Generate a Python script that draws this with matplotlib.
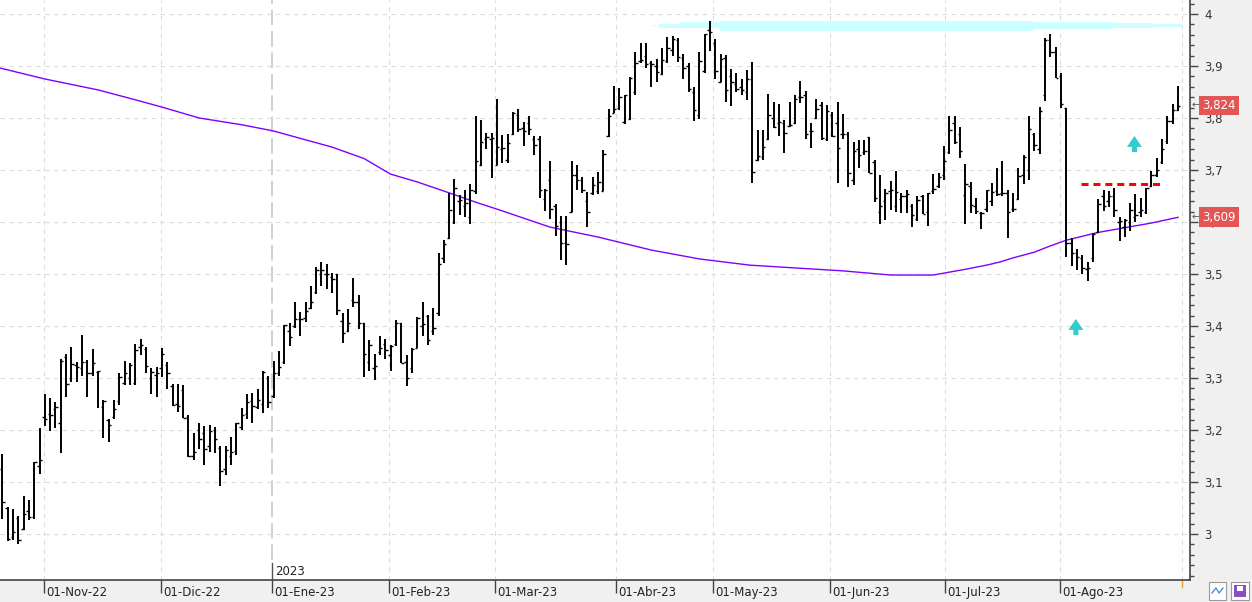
import matplotlib.pyplot as plt
import numpy as np
from matplotlib.patches import Rectangle
from matplotlib.ticker import FuncFormatter, MultipleLocator

plt.rcParams['font.family'] = ['DejaVu Sans']

# daily OHLC bars, one per trading day (index 0 = late Oct 2022)
opens = [
    3.125, 3.050, 2.995, 3.030, 3.010, 3.045, 3.033, 3.130, 3.225, 3.230,
    3.240, 3.213, 3.340, 3.300, 3.325, 3.320, 3.330, 3.310, 3.312, 3.245,
    3.220, 3.225, 3.255, 3.290, 3.300, 3.290, 3.360, 3.355, 3.300, 3.305,
    3.320, 3.325, 3.285, 3.250, 3.276, 3.225, 3.150, 3.200, 3.195, 3.170,
    3.200, 3.165, 3.125, 3.150, 3.160, 3.205, 3.230, 3.255, 3.245, 3.250,
    3.300, 3.265, 3.310, 3.330, 3.390, 3.400, 3.413, 3.415, 3.435, 3.465,
    3.500, 3.500, 3.495, 3.500, 3.410, 3.390, 3.450, 3.446, 3.405, 3.330,
    3.320, 3.350, 3.365, 3.345, 3.365, 3.405, 3.330,
    3.320, 3.357, 3.400, 3.420,
    3.390, 3.425, 3.530, 3.570, 3.600, 3.640, 3.630, 3.610, 3.660, 3.710,
    3.760, 3.760, 3.710, 3.740, 3.720, 3.770, 3.805, 3.780, 3.790, 3.760,
    3.760, 3.645, 3.680, 3.630, 3.600, 3.560, 3.620, 3.690, 3.680, 3.640,
    3.655, 3.660, 3.660, 3.765, 3.810, 3.820, 3.792, 3.798, 3.850, 3.910,
    3.920, 3.905, 3.900, 3.885, 3.910, 3.930, 3.950, 3.915, 3.900, 3.850,
    3.806, 3.890, 3.970, 3.945, 3.870, 3.915, 3.880, 3.865, 3.860, 3.850,
    3.875, 3.720, 3.725, 3.760, 3.800, 3.790, 3.790, 3.785, 3.790, 3.840,
    3.845, 3.775, 3.800, 3.825, 3.760, 3.805, 3.790, 3.770, 3.770, 3.680,
    3.740, 3.735, 3.763, 3.715, 3.620, 3.640, 3.660, 3.630, 3.645, 3.650,
    3.630, 3.605, 3.650, 3.620, 3.660, 3.670, 3.690, 3.735, 3.790, 3.770,
    3.652, 3.670, 3.630, 3.618, 3.625, 3.640, 3.660, 3.655, 3.655, 3.625,
    3.645, 3.690, 3.700, 3.770, 3.740, 3.845, 3.950, 3.927, 3.880, 3.819,
    3.560, 3.540, 3.530, 3.510, 3.530, 3.580, 3.650, 3.640, 3.650, 3.600,
    3.590, 3.600, 3.610, 3.620, 3.620, 3.670, 3.690, 3.715, 3.755, 3.795, 3.815,
]
highs = [
    3.154, 3.051, 3.048, 3.035, 3.073, 3.065, 3.139, 3.204, 3.269, 3.261,
    3.254, 3.336, 3.346, 3.359, 3.330, 3.383, 3.334, 3.355, 3.314, 3.258,
    3.222, 3.258, 3.310, 3.333, 3.329, 3.365, 3.375, 3.359, 3.320, 3.322,
    3.357, 3.330, 3.288, 3.288, 3.287, 3.228, 3.194, 3.213, 3.208, 3.210,
    3.206, 3.169, 3.169, 3.186, 3.214, 3.242, 3.270, 3.272, 3.278, 3.313,
    3.303, 3.333, 3.351, 3.402, 3.406, 3.446, 3.426, 3.446, 3.476, 3.513,
    3.523, 3.519, 3.502, 3.500, 3.425, 3.433, 3.492, 3.459, 3.406, 3.374,
    3.347, 3.381, 3.375, 3.364, 3.412, 3.405, 3.345,
    3.358, 3.417, 3.446, 3.421,
    3.434, 3.541, 3.565, 3.656, 3.682, 3.651, 3.661, 3.673, 3.803, 3.796,
    3.771, 3.771, 3.836, 3.768, 3.769, 3.812, 3.818, 3.793, 3.804, 3.766,
    3.766, 3.664, 3.718, 3.635, 3.612, 3.612, 3.718, 3.709, 3.686, 3.658,
    3.686, 3.697, 3.738, 3.818, 3.862, 3.857, 3.845, 3.879, 3.926, 3.945,
    3.945, 3.909, 3.914, 3.934, 3.955, 3.958, 3.953, 3.924, 3.906, 3.860,
    3.927, 3.961, 3.986, 3.951, 3.924, 3.922, 3.895, 3.887, 3.875, 3.892,
    3.907, 3.776, 3.776, 3.846, 3.830, 3.826, 3.797, 3.831, 3.844, 3.871,
    3.852, 3.790, 3.836, 3.830, 3.825, 3.811, 3.831, 3.808, 3.773, 3.753,
    3.758, 3.758, 3.764, 3.720, 3.690, 3.663, 3.678, 3.699, 3.656, 3.661,
    3.634, 3.650, 3.652, 3.656, 3.693, 3.695, 3.747, 3.803, 3.803, 3.783,
    3.712, 3.677, 3.646, 3.620, 3.661, 3.675, 3.703, 3.718, 3.661, 3.656,
    3.703, 3.729, 3.804, 3.772, 3.822, 3.953, 3.962, 3.936, 3.887, 3.819,
    3.570, 3.549, 3.536, 3.524, 3.578, 3.645, 3.662, 3.659, 3.666, 3.609,
    3.605, 3.637, 3.653, 3.647, 3.665, 3.698, 3.723, 3.760, 3.804, 3.827, 3.862,
]
lows = [
    3.029, 2.987, 2.988, 2.980, 3.007, 3.026, 3.028, 3.116, 3.208, 3.199,
    3.203, 3.156, 3.264, 3.292, 3.292, 3.304, 3.264, 3.304, 3.242, 3.184,
    3.176, 3.222, 3.249, 3.286, 3.286, 3.287, 3.344, 3.309, 3.269, 3.264,
    3.302, 3.278, 3.247, 3.235, 3.224, 3.148, 3.142, 3.164, 3.132, 3.157,
    3.155, 3.092, 3.113, 3.132, 3.151, 3.200, 3.222, 3.214, 3.241, 3.233,
    3.242, 3.261, 3.304, 3.326, 3.361, 3.397, 3.380, 3.407, 3.433, 3.462,
    3.476, 3.471, 3.463, 3.421, 3.367, 3.388, 3.437, 3.394, 3.301, 3.313,
    3.297, 3.344, 3.336, 3.313, 3.362, 3.329, 3.285,
    3.310, 3.357, 3.380, 3.364,
    3.383, 3.420, 3.521, 3.568, 3.597, 3.613, 3.610, 3.597, 3.654, 3.708,
    3.741, 3.684, 3.709, 3.713, 3.714, 3.767, 3.773, 3.746, 3.768, 3.728,
    3.646, 3.621, 3.606, 3.574, 3.527, 3.518, 3.619, 3.661, 3.656, 3.590,
    3.651, 3.654, 3.660, 3.763, 3.810, 3.815, 3.789, 3.796, 3.844, 3.905,
    3.897, 3.860, 3.869, 3.882, 3.906, 3.919, 3.907, 3.875, 3.850, 3.794,
    3.799, 3.887, 3.929, 3.875, 3.869, 3.830, 3.823, 3.850, 3.845, 3.834,
    3.675, 3.717, 3.719, 3.757, 3.781, 3.765, 3.732, 3.783, 3.789, 3.828,
    3.760, 3.743, 3.799, 3.758, 3.756, 3.763, 3.675, 3.759, 3.668, 3.671,
    3.704, 3.729, 3.695, 3.638, 3.596, 3.603, 3.623, 3.620, 3.617, 3.617,
    3.591, 3.601, 3.615, 3.593, 3.653, 3.666, 3.680, 3.730, 3.750, 3.723,
    3.597, 3.617, 3.615, 3.586, 3.620, 3.631, 3.650, 3.650, 3.570, 3.619,
    3.643, 3.674, 3.680, 3.736, 3.731, 3.833, 3.918, 3.876, 3.820, 3.532,
    3.516, 3.507, 3.500, 3.487, 3.524, 3.578, 3.621, 3.629, 3.610, 3.564,
    3.572, 3.583, 3.600, 3.610, 3.615, 3.667, 3.686, 3.712, 3.750, 3.788, 3.814,
]
closes = [
    3.061, 2.990, 3.004, 2.988, 3.038, 3.033, 3.138, 3.143, 3.222, 3.229,
    3.244, 3.333, 3.288, 3.327, 3.321, 3.330, 3.310, 3.329, 3.313, 3.255,
    3.210, 3.240, 3.302, 3.310, 3.325, 3.354, 3.363, 3.323, 3.312, 3.309,
    3.346, 3.310, 3.249, 3.246, 3.224, 3.150, 3.158, 3.183, 3.164, 3.199,
    3.182, 3.121, 3.162, 3.158, 3.213, 3.228, 3.253, 3.246, 3.257, 3.311,
    3.254, 3.310, 3.321, 3.401, 3.379, 3.413, 3.413, 3.429, 3.446, 3.507,
    3.507, 3.500, 3.491, 3.430, 3.386, 3.405, 3.446, 3.405, 3.346, 3.364,
    3.324, 3.357, 3.353, 3.362, 3.405, 3.329, 3.300,
    3.355, 3.415, 3.404, 3.373,
    3.397, 3.519, 3.557, 3.624, 3.666, 3.642, 3.637, 3.661, 3.717, 3.753,
    3.764, 3.762, 3.745, 3.743, 3.752, 3.810, 3.779, 3.775, 3.779, 3.748,
    3.661, 3.661, 3.625, 3.593, 3.559, 3.558, 3.690, 3.680, 3.661, 3.620,
    3.672, 3.677, 3.730, 3.804, 3.817, 3.840, 3.844, 3.877, 3.905, 3.911,
    3.903, 3.903, 3.889, 3.912, 3.934, 3.951, 3.918, 3.897, 3.856, 3.816,
    3.909, 3.961, 3.965, 3.890, 3.914, 3.853, 3.869, 3.855, 3.853, 3.875,
    3.696, 3.726, 3.745, 3.806, 3.782, 3.792, 3.772, 3.786, 3.837, 3.840,
    3.770, 3.775, 3.817, 3.761, 3.814, 3.766, 3.743, 3.770, 3.694, 3.737,
    3.728, 3.737, 3.695, 3.647, 3.631, 3.655, 3.661, 3.658, 3.650, 3.654,
    3.613, 3.642, 3.615, 3.655, 3.663, 3.687, 3.717, 3.777, 3.754, 3.737,
    3.673, 3.632, 3.622, 3.618, 3.661, 3.657, 3.653, 3.656, 3.620, 3.625,
    3.689, 3.725, 3.778, 3.748, 3.814, 3.950, 3.927, 3.876, 3.826, 3.560,
    3.541, 3.532, 3.511, 3.511, 3.576, 3.634, 3.631, 3.650, 3.623, 3.601,
    3.604, 3.624, 3.614, 3.623, 3.665, 3.691, 3.700, 3.740, 3.795, 3.815, 3.824,
]

# 200-session moving average, read at a number of bars
ma_idx = [-0.4, 8, 18, 25, 30, 37, 45, 51, 57, 62, 65, 68, 70, 73, 78, 84, 89,
          93.5, 103, 112, 122, 131, 140.5, 150, 158, 167, 175, 181, 185, 187.5,
          190, 194, 197, 200, 206, 216, 221]
ma_val = [3.896, 3.875, 3.854, 3.835, 3.821, 3.800, 3.787, 3.775, 3.758, 3.744,
          3.733, 3.722, 3.710, 3.692, 3.677, 3.656, 3.638, 3.623, 3.590, 3.571,
          3.546, 3.529, 3.517, 3.511, 3.506, 3.498, 3.498, 3.509, 3.517, 3.523,
          3.531, 3.542, 3.554, 3.565, 3.580, 3.598, 3.609]

# month boundaries (bar index) and their labels
month_pos = [7.84, 29.83, 50.7, 72.7, 92.6, 115.4, 133.6, 155.6, 177.2, 198.8]
month_labels = ['01-Nov-22', '01-Dic-22', '01-Ene-23', '01-Feb-23', '01-Mar-23',
                '01-Abr-23', '01-May-23', '01-Jun-23', '01-Jul-23', '01-Ago-23']
end_pos = 221.7
year_pos = 50.7

# drawn annotations
band_x = [122.1, 123.4, 127.4, 134.9, 193.7, 208.8, 216.3, 221.7]
band_top = [3.9794, 3.9817, 3.9837, 3.9865, 3.9846, 3.9821, 3.9808, 3.9808]
band_bot = [3.9769, 3.9740, 3.9731, 3.9679, 3.9706, 3.9725, 3.9756, 3.9756]
resist_x = [202.8, 217.6]
resist_y = 3.673
arrow_x = [212.8, 201.8]
arrow_y = [3.7346, 3.3827]

W, H = 1252, 602
fig = plt.figure(figsize=(W / 100, H / 100), dpi=100)
fig.patch.set_facecolor('#f0f0f0')
ax = fig.add_axes([0, 22 / H, 1190 / W, 580 / H])
ax.set_facecolor('white')
ax.set_xlim(-0.43, 223.25)
ax.set_ylim(2.9115, 4.0269)

grid_kw = dict(color='#dcdcdc', lw=0.8, ls=(0, (4, 4)), zorder=0)
for yv in np.arange(3.0, 4.01, 0.1):
    ax.axhline(yv, **grid_kw)
for xv in month_pos + [end_pos]:
    if xv != year_pos:
        ax.axvline(xv, **grid_kw)
ax.plot([year_pos, year_pos], [0.035, 1], transform=ax.get_xaxis_transform(),
        color='#d0d0d0', lw=1.4, ls=(0, (8, 3)), zorder=0)
ax.plot([year_pos, year_pos], [0, 0.03], transform=ax.get_xaxis_transform(),
        color='#555555', lw=1, clip_on=False)
ax.text(year_pos + 0.5, 0.0155, '2023', transform=ax.get_xaxis_transform(),
        ha='left', va='center', fontsize=8.5, color='#222222')

ax.fill_between(band_x, band_bot, band_top, step='post', color='#ccffff', lw=0, zorder=1)

x = np.arange(len(closes))
ax.vlines(x, lows, highs, color='black', lw=1.4, zorder=3)
ax.hlines(opens, x - 0.45, x, color='black', lw=1.0, zorder=3)
ax.hlines(closes, x, x + 0.45, color='black', lw=1.0, zorder=3)

ax.plot(ma_idx, ma_val, color='#8000ff', lw=1.0, zorder=2)

ax.plot(resist_x, [resist_y, resist_y], color='#ff0000', lw=2.2, dashes=(2.3, 1.6), zorder=4)
for ax_x, ax_y in zip(arrow_x, arrow_y):
    ax.arrow(ax_x, ax_y, 0, 0.0308, width=0.95, head_width=2.8, head_length=0.021,
             length_includes_head=True, color='#33cccc', lw=0, zorder=4)

# axes styling
for side in ['top', 'left']:
    ax.spines[side].set_visible(False)
ax.spines['bottom'].set_color('#444444')
ax.spines['right'].set_color('#444444')
ax.spines['bottom'].set_linewidth(1.2)
ax.spines['right'].set_linewidth(1.2)

ax.yaxis.tick_right()
ax.set_yticks(np.arange(3.0, 4.01, 0.1))
ax.yaxis.set_minor_locator(MultipleLocator(0.02))
ax.yaxis.set_major_formatter(FuncFormatter(
    lambda v, p: f"{v:.1f}".rstrip('0').rstrip('.').replace('.', ',')))
ax.tick_params(axis='y', which='major', direction='out', length=6, width=1,
               color='#444444', labelsize=8.5, labelcolor='#333333', pad=4)
ax.tick_params(axis='y', which='minor', direction='out', length=3, width=1, color='#444444')

ax.set_xticks(month_pos)
ax.set_xticklabels([])
ax.tick_params(axis='x', direction='out', length=9, width=1, color='#444444')
for pos, lab in zip(month_pos, month_labels):
    ax.text(pos + 0.4, -0.0215, lab, transform=ax.get_xaxis_transform(),
            ha='left', va='center', fontsize=8.5, color='#222222', clip_on=False)
ax.plot([end_pos, end_pos], [0, -0.012], transform=ax.get_xaxis_transform(),
        color='#f0a030', lw=1, clip_on=False)

# last price / last MA tags
for val, txt in [(closes[-1], '3,824'), (ma_val[-1], '3,609')]:
    ax.text(1.0015, val, '\u2190', transform=ax.get_yaxis_transform(), ha='left',
            va='center', fontsize=7, color='#555555', clip_on=False, zorder=5)
    ax.text(1.0105, val, txt, transform=ax.get_yaxis_transform(), ha='left',
            va='center', fontsize=8.5, color='white', clip_on=False, zorder=6,
            bbox=dict(boxstyle='square,pad=0.28', fc='#e35656', ec='none'))

# small toolbar buttons in the corner
fig.add_artist(Rectangle((1209 / W, 2 / H), 17 / W, 18 / H, transform=fig.transFigure,
                         fc='white', ec='#9a9a9a', lw=0.8))
fig.add_artist(plt.Line2D([1212 / W, 1216 / W, 1219 / W, 1223 / W],
                          [9 / H, 14 / H, 9 / H, 14 / H], transform=fig.transFigure,
                          color='#4a90d9', lw=1))
fig.add_artist(Rectangle((1231 / W, 2 / H), 18 / W, 18 / H, transform=fig.transFigure,
                         fc='white', ec='#9a9a9a', lw=0.8))
fig.add_artist(Rectangle((1234 / W, 5 / H), 12 / W, 12 / H, transform=fig.transFigure,
                         fc='#8a4fc0', ec='none'))
fig.add_artist(Rectangle((1237 / W, 11 / H), 6 / W, 5 / H, transform=fig.transFigure,
                         fc='white', ec='none'))

fig.savefig('out.png', dpi=100)
